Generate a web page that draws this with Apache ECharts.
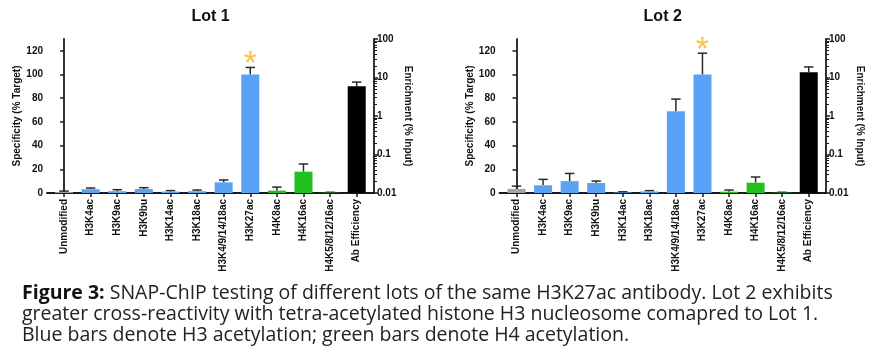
<!DOCTYPE html>
<html>
<head>
<meta charset="utf-8">
<script src="https://cdn.jsdelivr.net/npm/echarts@6/dist/echarts.min.js"></script>
<style>
html,body{margin:0;padding:0;background:#fff;}
#chart{width:882px;height:359px;}
</style>
</head>
<body>
<div id="chart"></div>
<script>
// ---- data ----
const categories = ['Unmodified','H3K4ac','H3K9ac','H3K9bu','H3K14ac','H3K18ac','H3K4/9/14/18ac','H3K27ac','H4K8ac','H4K16ac','H4K5/8/12/16ac','Ab Efficiency'];
const groupOf = ['unmod','h3','h3','h3','h3','h3','h3','h3','h4','h4','h4','ab'];
const lot1Specificity = [0.8, 3.2, 1.5, 3.3, 1.2, 1.5, 9, 100, 2, 18, 0.3];
const lot1SpecErr     = [0.8, 1.0, 1.3, 1.2, 0.8, 1.0, 2, 6, 3, 6.5, 0.3];
const lot1Enrichment = 5.9;
const lot1EnrichErr = 1.7;
const lot2Specificity = [3.5, 6.5, 10, 8.4, 0.5, 1.3, 69, 100, 1.1, 8.7, 0.3];
const lot2SpecErr     = [2.3, 5.0, 6.5, 1.7, 0.5, 0.7, 10.3, 18, 1.4, 4.8, 0.3];
const lot2Enrichment = 13.6;
const lot2EnrichErr = 5.2;
const starIndex = 7;
const lot1StarY = 114;
const lot2StarY = 126;
const leftTicks = [0, 20, 40, 60, 80, 100, 120];
const rightMin = 0.01, rightMax = 100;
const rightTickLabels = ['0.01', '0.1', '1', '10', '100'];
const titles = ['Lot 1', 'Lot 2'];
const captionBold = 'Figure 3:';
const captionLines = [
  ' SNAP-ChIP testing of different lots of the same H3K27ac antibody. Lot 2 exhibits',
  'greater cross-reactivity with tetra-acetylated histone H3 nucleosome comapred to Lot 1.',
  'Blue bars denote H3 acetylation; green bars denote H4 acetylation.'
];

// ---- styles ----
const colors = {unmod:'#a3a3a3', h3:'#5aa2f6', h4:'#1fc11f', ab:'#000000'};
const axisColor = '#1a1a1a';
const fontAx = '"Liberation Sans", Arial, sans-serif';
const BAR_W = 18;

const chart = echarts.init(document.getElementById('chart'), null, {renderer:'canvas'});

const grids = [
  {left: 47, top: 39, width: 327, height: 154},
  {left: 499.5, top: 39, width: 326.5, height: 154}
];

function errRender(params, api) {
  const x = api.value(0), v = api.value(1), e = api.value(2);
  const p0 = api.coord([x, v]);
  const p1 = api.coord([x, v + e]);
  const half = 4.7;
  const st = {stroke:'#2a2a2a', lineWidth:1.5};
  return {type:'group', children:[
    {type:'line', shape:{x1:p0[0], y1:p0[1], x2:p1[0], y2:p1[1]}, style:st},
    {type:'line', shape:{x1:p1[0]-half, y1:p1[1], x2:p1[0]+half, y2:p1[1]}, style:st}
  ]};
}
function logBarRender(params, api) {
  const x = api.value(0), v = api.value(1);
  const pTop = api.coord([x, v]);
  const pBase = api.coord([x, rightMin]);
  return {type:'rect', shape:{x:pTop[0]-BAR_W/2, y:pTop[1], width:BAR_W, height:pBase[1]-pTop[1]},
    style:{fill:colors.ab}};
}

const xAxes = [], yAxes = [], series = [];
[[lot1Specificity, lot1SpecErr, lot1Enrichment, lot1EnrichErr, lot1StarY],
 [lot2Specificity, lot2SpecErr, lot2Enrichment, lot2EnrichErr, lot2StarY]].forEach((d, g) => {
  const [spec, err, enr, enrErr, starY] = d;
  xAxes.push({
    type:'value', gridIndex:g, min:-0.64, max:11.65,
    splitLine:{show:false},
    axisLine:{show:true, onZero:false, lineStyle:{color:axisColor, width:1.8}},
    axisTick:{show:true, customValues:categories.map((c,i)=>i), length:4, lineStyle:{color:axisColor, width:1.5}},
    axisLabel:{show:true, customValues:categories.map((c,i)=>i), rotate:90, margin:6,
      formatter:(v)=>categories[Math.round(v)], color:'#111', fontFamily:fontAx, fontWeight:'bold', fontSize:10}
  });
  yAxes.push({
    type:'value', gridIndex:g, min:0, max:130, position:'left',
    name:'Specificity (% Target)', nameLocation:'middle', nameGap:24,
    nameTextStyle:{color:'#111', fontFamily:fontAx, fontWeight:'bold', fontSize:10},
    splitLine:{show:false},
    axisLine:{show:true, lineStyle:{color:axisColor, width:1.8}},
    axisTick:{show:true, customValues:leftTicks, length:4, lineStyle:{color:axisColor, width:1.5}},
    axisLabel:{customValues:leftTicks, margin:4, color:'#111', fontFamily:fontAx, fontWeight:'bold', fontSize:10}
  });
  yAxes.push({
    type:'log', logBase:10, gridIndex:g, min:rightMin, max:rightMax, position:'right',
    name:'Enrichment (% Input)', nameLocation:'middle', nameGap:29, nameRotate:-90,
    nameTextStyle:{color:'#111', fontFamily:fontAx, fontWeight:'bold', fontSize:10},
    splitLine:{show:false},
    axisLine:{show:true, lineStyle:{color:axisColor, width:1.8}},
    axisTick:{show:true, length:4, lineStyle:{color:axisColor, width:1.5}},
    minorTick:{show:true, splitNumber:9, length:3, lineStyle:{color:axisColor, width:1}},
    axisLabel:{margin:3, color:'#111', fontFamily:fontAx, fontWeight:'bold', fontSize:10,
      formatter:(v)=>rightTickLabels[Math.round(Math.log10(v))+2]}
  });
  const yL = g*2, yR = g*2+1;
  series.push({
    type:'bar', xAxisIndex:g, yAxisIndex:yL, barWidth:BAR_W,
    data: spec.map((v,i)=>({value:[i, v], itemStyle:{color:colors[groupOf[i]]}}))
  });
  series.push({
    type:'custom', xAxisIndex:g, yAxisIndex:yR, renderItem:logBarRender,
    data: [[11, enr]]
  });
  series.push({
    type:'custom', xAxisIndex:g, yAxisIndex:yL, renderItem:errRender, z:1,
    data: spec.map((v,i)=>[i, v, err[i]])
  });
  series.push({
    type:'custom', xAxisIndex:g, yAxisIndex:yR, renderItem:errRender, z:1,
    data: [[11, enr, enrErr]]
  });
  series.push({
    type:'scatter', xAxisIndex:g, yAxisIndex:yL, symbolSize:0, silent:true,
    data:[[starIndex, starY]],
    label:{show:true, position:'inside', formatter:'*', color:'#fdb022', fontSize:34,
      fontFamily:fontAx, fontWeight:'normal', offset:[0, 7]}
  });
});

const option = {
  animation:false,
  backgroundColor:'#ffffff',
  grid: grids,
  xAxis: xAxes,
  yAxis: yAxes,
  series: series,
  graphic: [
    {type:'text', x:210.5, y:17, style:{text:titles[0], fill:'#111', align:'center', verticalAlign:'middle', font:'bold 16px "Liberation Sans", Arial, sans-serif'}},
    {type:'text', x:662.7, y:17, style:{text:titles[1], fill:'#111', align:'center', verticalAlign:'middle', font:'bold 16px "Liberation Sans", Arial, sans-serif'}},
    {type:'text', x:22, y:283, style:{
      text:'{b|' + captionBold + '}' + captionLines.join('\n'),
      fill:'#222', fontFamily:'"Open Sans"', fontSize:19.5, lineHeight:21, verticalAlign:'top', align:'left',
      rich:{b:{fontWeight:'bold', fontFamily:'"Open Sans"', fontSize:19.5, fill:'#111', lineHeight:21}}
    }}
  ]
};
chart.setOption(option);
</script>
</body>
</html>
